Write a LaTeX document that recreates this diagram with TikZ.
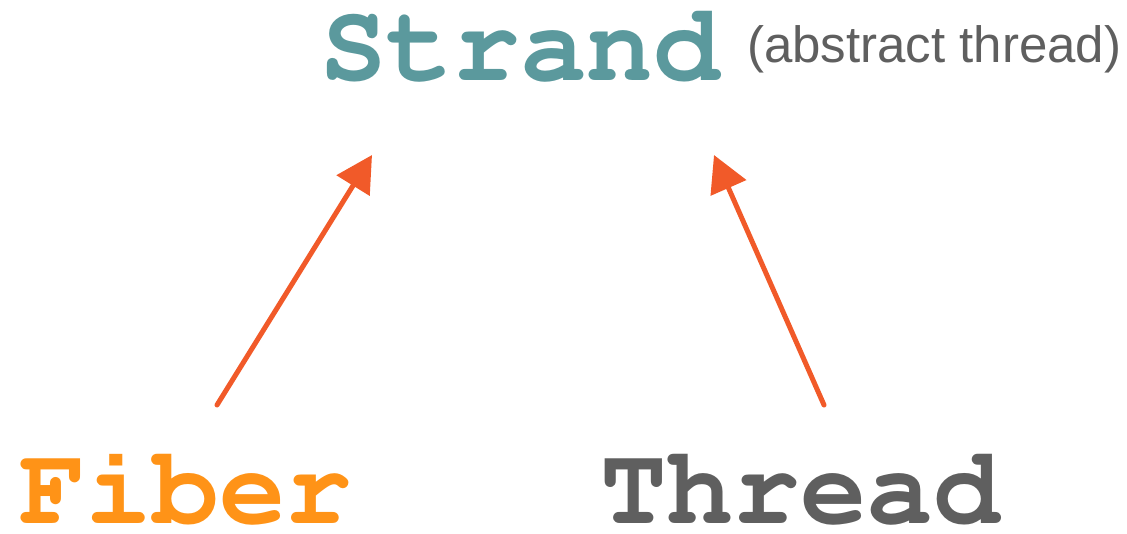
\documentclass[tikz,border=0pt]{standalone}
\usepackage{fontspec}
\setsansfont{Liberation Sans}
\usepackage{tikz}
\usetikzlibrary{arrows.meta}
\definecolor{strandteal}{HTML}{5B999D}
\definecolor{fiberorange}{HTML}{FF9317}
\definecolor{threadgray}{HTML}{5F5F5F}
\definecolor{arroworange}{HTML}{F15A29}
\tikzset{
	bigword/.style={inner sep=0pt,anchor=base west,font=\fontsize{111}{111}\usefont{OT1}{pcr}{b}{n}},
	inherit/.style={draw=arroworange,line width=5pt,line cap=round,-{Triangle[length=36pt,width=38pt]},fill=arroworange}
}

\begin{document}
\begin{tikzpicture}[x=1pt,y=-1pt]
	\useasboundingbox (0,0) rectangle (1127,533);
	\node (strand) at (320,80)[bigword,text=strandteal]{Strand};
	\node (abstract) at (747,62)[inner sep=0pt,anchor=base west,text=threadgray,font=\fontsize{51}{51}\selectfont\sffamily]{(abstract thread)};
	\node (fiber) at (19,523)[bigword,text=fiberorange]{Fiber};
	\node (thread) at (600,523)[bigword,text=threadgray]{Thread};

	\coordinate (fiberTail) at (217,405);
	\coordinate (strandLeft) at (372,155);
	\coordinate (threadTail) at (824,405);
	\coordinate (strandRight) at (714,155);
	\draw [inherit](fiberTail)--(strandLeft);
	\draw [inherit](threadTail)--(strandRight);
\end{tikzpicture}
\end{document}
